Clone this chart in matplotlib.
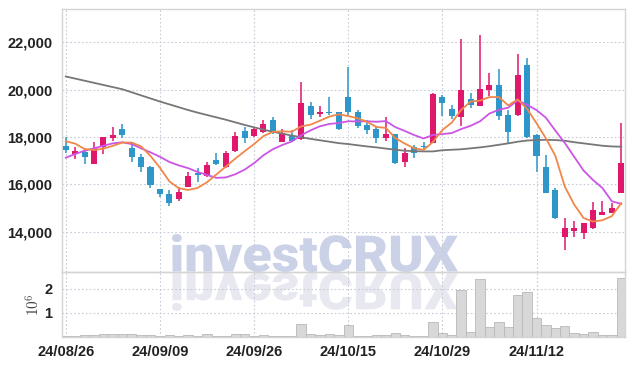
import numpy as np
import matplotlib.pyplot as plt
from matplotlib.textpath import TextPath
from matplotlib.font_manager import FontProperties
from matplotlib.patches import PathPatch
from matplotlib.transforms import Affine2D, IdentityTransform

dates = ["24/08/26", "24/08/27", "24/08/28", "24/08/29", "24/08/30", "24/09/02", "24/09/03",
         "24/09/04", "24/09/05", "24/09/06", "24/09/09", "24/09/10", "24/09/11", "24/09/12",
         "24/09/13", "24/09/19", "24/09/20", "24/09/23", "24/09/24", "24/09/25", "24/09/26",
         "24/09/27", "24/09/30", "24/10/02", "24/10/04", "24/10/07", "24/10/08", "24/10/10",
         "24/10/11", "24/10/14", "24/10/15", "24/10/16", "24/10/17", "24/10/18", "24/10/21",
         "24/10/22", "24/10/23", "24/10/24", "24/10/25", "24/10/28", "24/10/29", "24/10/30",
         "24/10/31", "24/11/01", "24/11/04", "24/11/05", "24/11/06", "24/11/07", "24/11/08",
         "24/11/11", "24/11/12", "24/11/13", "24/11/14", "24/11/15", "24/11/18", "24/11/19",
         "24/11/20", "24/11/21", "24/11/22", "24/11/25"]

opens = [17630, 17300, 17380, 16850, 17590, 17970, 18320, 17550, 17140, 16740,
         15800, 15580, 15370, 15900, 16490, 16350, 17030, 16750, 17420, 18270,
         18040, 18225, 18720, 17800, 18040, 17900, 19310, 18970, 19070, 19060,
         19700, 19070, 18510, 18320, 17950, 18130, 16930, 17590, 17620, 17735,
         19700, 19170, 18830, 19590, 19320, 20000, 20200, 18930, 18930, 21040,
         18080, 16745, 15760, 13790, 14040, 13930, 14140, 14720, 14800, 15650]
highs = [18010, 17560, 17480, 17800, 18000, 18410, 18550, 17730, 17280, 16770,
         15810, 15760, 15900, 16500, 16680, 16960, 17330, 17420, 18220, 18410,
         18430, 18720, 18860, 18340, 18300, 20340, 19490, 19310, 19680, 19070,
         20970, 19140, 18720, 18430, 18860, 18130, 17520, 17660, 17800, 19870,
         19775, 19350, 22130, 19870, 22310, 20690, 20860, 19140, 21510, 21330,
         18120, 17240, 15830, 14560, 14460, 14360, 15260, 15290, 15220, 18600]
lows = [17310, 17060, 16850, 16840, 17280, 17850, 17950, 16960, 16510, 15830,
        15450, 15100, 15300, 15870, 16110, 16320, 16810, 16700, 17380, 17760,
        17990, 18180, 18130, 17775, 17800, 17880, 18750, 18830, 18930, 18300,
        18930, 18370, 18130, 17760, 17845, 16870, 16745, 17100, 17450, 17730,
        18890, 18750, 18465, 19215, 19320, 19750, 18720, 17730, 18900, 17950,
        16540, 15620, 14520, 13220, 13760, 13670, 14100, 14700, 14770, 15640]
closes = [17470, 17400, 17140, 17520, 17990, 18080, 18090, 17140, 16720, 15960,
          15600, 15200, 15690, 16350, 16380, 16810, 16860, 17330, 18040, 17945,
          18320, 18550, 18230, 18150, 17850, 19450, 18930, 19060, 19030, 18330,
          19070, 18470, 18300, 17950, 18130, 16920, 17310, 17310, 17580, 19820,
          19450, 18890, 19990, 19340, 20020, 20200, 18890, 18225, 20620, 17990,
          17210, 15650, 14560, 14140, 14160, 14350, 14910, 14830, 15010, 16910]
volume = [20000, 20000, 60000, 60000, 110000, 110000, 110000, 110000, 60000, 60000,
          20000, 60000, 20000, 60000, 20000, 110000, 20000, 20000, 110000, 110000,
          20000, 60000, 20000, 20000, 20000, 530000, 100000, 60000, 100000, 60000,
          480000, 30000, 30000, 60000, 60000, 140000, 60000, 20000, 20000, 600000,
          150000, 60000, 1950000, 200000, 2410000, 390000, 600000, 390000, 1750000, 1860000,
          770000, 480000, 350000, 430000, 150000, 110000, 180000, 60000, 60000, 2450000]

ma5 = [17820, 17720, 17490, 17450, 17504, 17626, 17764, 17764, 17604, 17198,
       16702, 16124, 15834, 15760, 15844, 16086, 16418, 16746, 17084, 17397,
       17699, 18037, 18217, 18239, 18220, 18446, 18522, 18688, 18864, 18960,
       18884, 18792, 18640, 18424, 18384, 17954, 17722, 17524, 17450, 17788,
       18294, 18610, 19146, 19498, 19538, 19688, 19688, 19335, 19591, 19185,
       18587, 17939, 17206, 15910, 15144, 14572, 14424, 14478, 14652, 15202]
ma10 = [17125, 17280, 17420, 17520, 17630, 17730, 17775, 17700, 17520, 17351,
        17164, 16944, 16799, 16682, 16521, 16394, 16271, 16290, 16422, 16621,
        16893, 17228, 17482, 17662, 17809, 18073, 18280, 18453, 18552, 18590,
        18665, 18657, 18664, 18644, 18672, 18419, 18257, 18082, 17937, 18086,
        18124, 18166, 18335, 18474, 18663, 18991, 19149, 19241, 19545, 19362,
        19138, 18814, 18271, 17751, 17165, 16580, 16182, 15842, 15281, 15173]
ma_long = [20560, 20470, 20380, 20290, 20200, 20110, 20020, 19890, 19760, 19630,
           19500, 19380, 19260, 19140, 19030, 18930, 18830, 18730, 18620, 18510,
           18410, 18310, 18220, 18140, 18060, 17990, 17920, 17860, 17800, 17740,
           17700, 17650, 17600, 17560, 17510, 17460, 17420, 17400, 17390, 17390,
           17440, 17460, 17480, 17520, 17560, 17610, 17670, 17730, 17800, 17850,
           17870, 17880, 17870, 17840, 17780, 17730, 17680, 17630, 17600, 17590]

tick_idx = [0, 10, 20, 30, 40, 50]

RED = "#e0186c"
BLUE = "#2e96c8"
GRID = "#c8cad8"
SPINE = "#d4d4d4"
TXT = "#222222"
tick_font = ["Liberation Sans Narrow", "Liberation Sans", "DejaVu Sans"]
plt.rcParams["mathtext.fontset"] = "cm"

x = np.arange(len(dates))
o = np.array(opens)
c = np.array(closes)
up = c >= o
colors = np.where(up, RED, BLUE)

fig = plt.figure(figsize=(6.34, 3.66), dpi=100)
fig.patch.set_facecolor("white")
ax = fig.add_axes([62 / 634, 94 / 366, 563 / 634, 262.7 / 366])
axv = fig.add_axes([62 / 634, 29.3 / 366, 563 / 634, 64.7 / 366], sharex=ax)

# watermark + reflection behind the axes
fp = FontProperties(family="Roboto", weight="black")
tp = TextPath((0, 0), "investCRUX", size=100, prop=fp)
bb = tp.get_extents()
sx = (458 - 172) / bb.width
sy = (272 - 234) / bb.height
wm = Affine2D().translate(-bb.x0, -bb.y0).scale(sx, sy).translate(172, 366 - 272)
fig.add_artist(PathPatch(wm.transform_path(tp), transform=IdentityTransform(),
                         facecolor="#cbd2e8", edgecolor="none", zorder=-1))
rf = Affine2D().translate(-bb.x0, -bb.y0).scale(sx, -sy).translate(172, 366 - 273)
fig.add_artist(PathPatch(rf.transform_path(tp), transform=IdentityTransform(),
                         facecolor="#e8e9f0", edgecolor="none", zorder=-1))

for a in (ax, axv):
    a.set_facecolor("none")
    for s in a.spines.values():
        s.set_color(SPINE)
        s.set_linewidth(1.0)
    a.grid(True, color=GRID, linestyle=(0, (1.5, 2)), linewidth=0.8)
    a.set_axisbelow(True)
    a.tick_params(length=0, colors=TXT)

# candles
ax.vlines(x, lows, highs, colors=colors, linewidth=1.1, zorder=2)
body_h = np.maximum(np.abs(c - o), 40)
ax.bar(x, body_h, bottom=np.minimum(o, c), width=0.64, color=colors, zorder=3)

ax.plot(x, ma_long, color="#777777", linewidth=1.3, zorder=4)
ax.plot(x, ma10, color="#cc55e6", linewidth=1.3, zorder=4)
ax.plot(x, ma5, color="#f0874a", linewidth=1.3, zorder=4)

ax.set_xlim(-0.4, 59.4)
ax.set_ylim(12290, 23400)
ax.set_yticks([14000, 16000, 18000, 20000, 22000])
ax.set_yticklabels([f"{v:,}" for v in [14000, 16000, 18000, 20000, 22000]],
                   family=tick_font, fontsize=10.5, fontweight="bold")
ax.tick_params(axis="y", pad=7)
ax.tick_params(axis="x", labelbottom=False)

# volume
axv.bar(x, np.array(volume) / 1e6, width=1.0, color="#d8d8d8",
        edgecolor="#b8b8b8", linewidth=0.6, zorder=2)
axv.set_ylim(0, 2.7)
axv.set_yticks([1, 2])
axv.set_yticklabels(["1", "2"], family=tick_font, fontsize=10.5, fontweight="bold")
axv.tick_params(axis="y", pad=7)
axv.set_ylabel(r"$10^6$", fontsize=11, color="#444444", labelpad=1)
axv.set_xticks(tick_idx)
axv.set_xticklabels([dates[i] for i in tick_idx], family=tick_font, fontsize=10.5,
                    fontweight="bold")
axv.tick_params(axis="x", pad=6)

fig.savefig("out.png", dpi=100)
